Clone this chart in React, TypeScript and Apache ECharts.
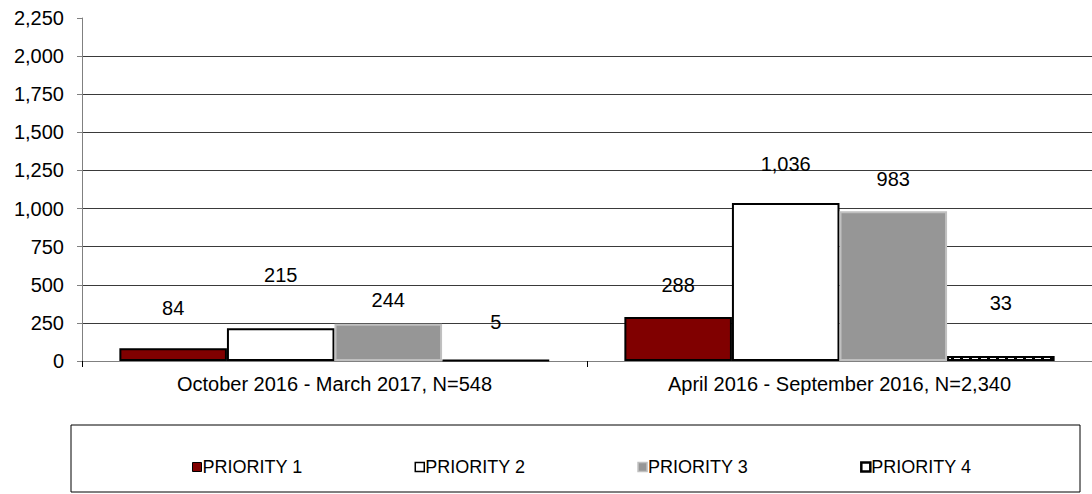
import React, { useEffect, useRef } from "react";
import * as echarts from "echarts";

const categories = ["October 2016 - March 2017, N=548", "April 2016 - September 2016, N=2,340"];
const seriesNames = ["PRIORITY 1", "PRIORITY 2", "PRIORITY 3", "PRIORITY 4"];
const priority1 = [84, 288];
const priority2 = [215, 1036];
const priority3 = [244, 983];
const priority4 = [5, 33];
const yTicks = [0, 250, 500, 750, 1000, 1250, 1500, 1750, 2000, 2250];

// label lift above bar top (style only)
const labelLift = [
  [30, 22],
  [43, 29],
  [14, 22],
  [28, 43],
];

const FONT = "'Liberation Sans', Arial, sans-serif";

function makeDashPattern(): HTMLCanvasElement {
  const c = document.createElement("canvas");
  c.width = 9;
  c.height = 20;
  const ctx = c.getContext("2d")!;
  ctx.fillStyle = "#000000";
  ctx.fillRect(0, 0, 9, 20);
  ctx.fillStyle = "#ffffff";
  ctx.fillRect(0, 0, 6, 20);
  return c;
}

export default function App() {
  const ref = useRef<HTMLDivElement>(null);
  useEffect(() => {
    if (!ref.current) return;
    const chart = echarts.init(ref.current, null, { renderer: "svg" });
    const values = [priority1, priority2, priority3, priority4];
    const styles = [
      { color: "#800000", borderColor: "#000", borderWidth: 2 },
      { color: "#ffffff", borderColor: "#000", borderWidth: 2 },
      { color: "#969696", borderColor: "#c0c0c0", borderWidth: 2 },
      {
        color: { image: makeDashPattern(), repeat: "repeat" },
        borderColor: "#000",
        borderWidth: 2,
      },
    ];
    const legendIcon = [
      { color: "#800000", borderColor: "#000", borderWidth: 1 },
      { color: "#ffffff", borderColor: "#000", borderWidth: 1.5 },
      { color: "#969696", borderColor: "#c0c0c0", borderWidth: 1.5 },
      { color: "#ffffff", borderColor: "#000", borderWidth: 2.5 },
    ];
    const lineColors = yTicks.map((_, i) => (i === yTicks.length - 1 ? "transparent" : "#3a3a3a"));
    chart.setOption({
      animation: false,
      textStyle: { fontFamily: FONT },
      grid: { left: 82, top: 18, width: 1016, height: 343 },
      legend: {
        left: 187,
        top: 453,
        itemWidth: 9,
        itemHeight: 9,
        itemGap: 112,
        icon: "rect",
        textStyle: { fontSize: 18, color: "#000", fontFamily: FONT, padding: [0, 0, 0, -4] },
        data: seriesNames.map((n, i) => ({ name: n, itemStyle: legendIcon[i] })),
      },
      graphic: [
        {
          type: "rect",
          shape: { x: 71, y: 425, width: 1009, height: 67 },
          style: { fill: "none", stroke: "#000", lineWidth: 1 },
          z: -1,
        },
      ],
      xAxis: {
        type: "category",
        data: categories,
        axisLine: { lineStyle: { color: "#808080", width: 1 } },
        axisTick: { show: true, length: 6, lineStyle: { color: "#000" } },
        axisLabel: { fontSize: 20, color: "#000", margin: 13, fontFamily: FONT },
      },
      yAxis: {
        type: "value",
        min: 0,
        max: 2250,
        interval: 250,
        axisLine: { show: true, lineStyle: { color: "#808080" } },
        axisTick: { show: true, length: 5, lineStyle: { color: "#808080" } },
        axisLabel: {
          fontSize: 20,
          color: "#000",
          margin: 18,
          fontFamily: FONT,
          formatter: (v: number) => v.toLocaleString("en-US"),
        },
        splitLine: { show: true, lineStyle: { color: lineColors, width: 1 } },
      },
      series: seriesNames.map((name, si) => ({
        name,
        type: "bar",
        barGap: "0%",
        barCategoryGap: "14.8%",
        itemStyle: styles[si],
        data: values[si].map((v, ci) => ({
          value: v,
          label: { distance: labelLift[si][ci] },
        })),
        label: {
          show: true,
          position: "top",
          fontSize: 20,
          color: "#000",
          fontFamily: FONT,
          formatter: (p: any) => Number(p.value).toLocaleString("en-US"),
        },
      })),
    });
    return () => chart.dispose();
  }, []);
  return <div ref={ref} style={{ width: 1092, height: 494, position: "absolute", left: 0, top: 0 }} />;
}
